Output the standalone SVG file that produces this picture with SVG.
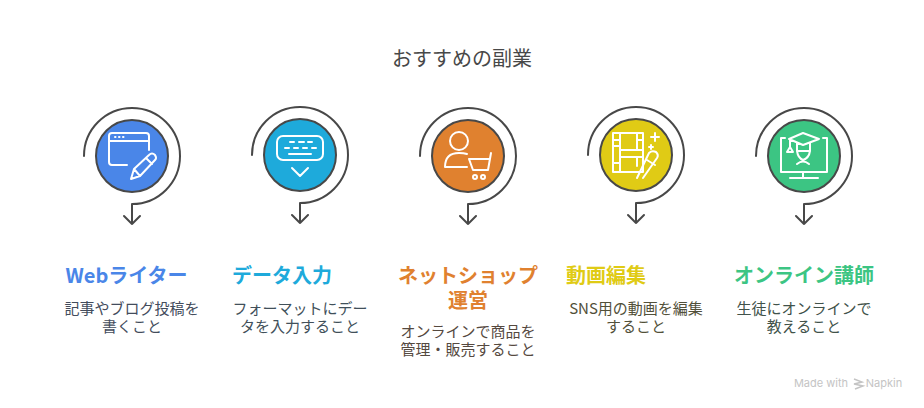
<svg xmlns="http://www.w3.org/2000/svg" width="924" height="408" viewBox="0 0 924 408">
<style>
text{font-family:"Noto Sans CJK JP","Noto Sans",sans-serif;text-anchor:middle}
.t{font-size:20px;fill:#484848}
.h{font-size:20px;font-weight:700}
.d{font-size:15px}
.c{stroke:#484848;stroke-width:2}
.i{fill:none;stroke:#fff;stroke-width:2;stroke-linecap:round;stroke-linejoin:round}
.r{fill:none;stroke:#484848;stroke-width:2;stroke-linecap:round;stroke-linejoin:round}
.m{font-size:11px;fill:#c4c4c4;font-family:"Inter","Noto Sans",sans-serif}
</style>
<defs>
<g id="ring"><path class="r" d="M-48 0A48 48 0 1 1 0 48V68M-8 60L0 68L8 60"/></g>
</defs>
<rect width="924" height="408" fill="#fff"/>
<text class="t" x="462" y="66">おすすめの副業</text>
<g id="connectors">
<use href="#ring" x="132" y="156"/>
<use href="#ring" x="300" y="155"/>
<use href="#ring" x="468" y="156"/>
<use href="#ring" x="636" y="155"/>
<use href="#ring" x="804" y="156"/>
</g>
<g id="node1">
<circle class="c" cx="132" cy="156" r="36" fill="#4a86e8"/>
<path class="i" d="M127 165H112Q109 165 109 162V136Q109 133 112 133H146Q149 133 149 136V150M109 141H149"/>
<path class="i" d="M131 179L134 169L149 155Q152 152 155 155Q157 158 155 160L140 176ZM134 169L140 176M146 158L152 164"/>
<path class="i" d="M115 137H115.500M119 137H119.500M123 137H123.500"/>
<text class="h" x="126.500" y="283" fill="#4a86e8">Webライター</text>
<text class="d" x="132" y="314" fill="#434c5c">記事やブログ投稿を</text>
<text class="d" x="132" y="332" fill="#434c5c">書くこと</text>
</g>
<g id="node2">
<circle class="c" cx="300" cy="155" r="36" fill="#1eaadb"/>
<rect class="i" x="277" y="136" width="46" height="24" rx="6"/>
<path class="i" d="M290 142H294M299 142H304M308 142H312M285 148H289M294 148H298M303 148H307M312 148H316M289 154H311M292 168L300 176L308 168"/>
<text class="h" x="282" y="283" fill="#1eaadb">データ入力</text>
<text class="d" x="300" y="314" fill="#41505a">フォーマットにデー</text>
<text class="d" x="300" y="332" fill="#41505a">タを入力すること</text>
</g>
<g id="node3">
<circle class="c" cx="468" cy="156" r="36" fill="#e0812f"/>
<circle class="i" cx="459" cy="141" r="9"/>
<path class="i" d="M445 167Q445 153 459 153Q464 153 467 154M445 167H467"/>
<path class="i" d="M491 153L488 170H473L469 159H490"/>
<circle class="i" cx="475" cy="177" r="2"/><circle class="i" cx="483" cy="177" r="2"/>
<text class="h" x="468" y="283" fill="#e0812f">ネットショップ</text>
<text class="h" x="468" y="308" fill="#e0812f">運営</text>
<text class="d" x="468" y="337" fill="#55493f">オンラインで商品を</text>
<text class="d" x="468" y="355" fill="#55493f">管理・販売すること</text>
</g>
<g id="node4">
<circle class="c" cx="636" cy="155" r="36" fill="#e0cb15"/>
<path class="i" d="M613 133H643V172H613ZM620 133V172M637 133V150M637 157V166M620 150H643V157H620M613 140H620M613 146H620M613 163H620M637 140H643M620 172H631"/>
<path class="i" d="M637 178L649 153Q652 150 656 152Q659 155 657 158L643 178M647 160L655 165M655 133V141M651 137H659M651 145V149M649 147H653"/>
<text class="h" x="606" y="283" fill="#e0cb15">動画編集</text>
<text class="d" x="636" y="314" fill="#525039">SNS用の動画を編集</text>
<text class="d" x="636" y="332" fill="#525039">すること</text>
</g>
<g id="node5">
<circle class="c" cx="804" cy="156" r="36" fill="#3cc583"/>
<path class="i" d="M785 138H781V172H827V138H823M803 172V178M790 178H818"/>
<path class="i" d="M803 133L819 139L803 145L789 139ZM797 143V151Q798 158 803 160Q809 158 810 151V143M797 151H810M790 140V147M787 152L790 147L793 152ZM797 164Q803 159 809 164"/>
<text class="h" x="804" y="283" fill="#3cc583">オンライン講師</text>
<text class="d" x="804" y="314" fill="#41524a">生徒にオンラインで</text>
<text class="d" x="804" y="332" fill="#41524a">教えること</text>
</g>
<g id="credit">
<text class="m" x="821" y="387">Made with</text>
<path d="M854 379L862 382L854 384L863 386L855 389" fill="none" stroke="#c4c4c4" stroke-width="1.500"/>
<text class="m" x="884" y="387">Napkin</text>
</g>
</svg>
